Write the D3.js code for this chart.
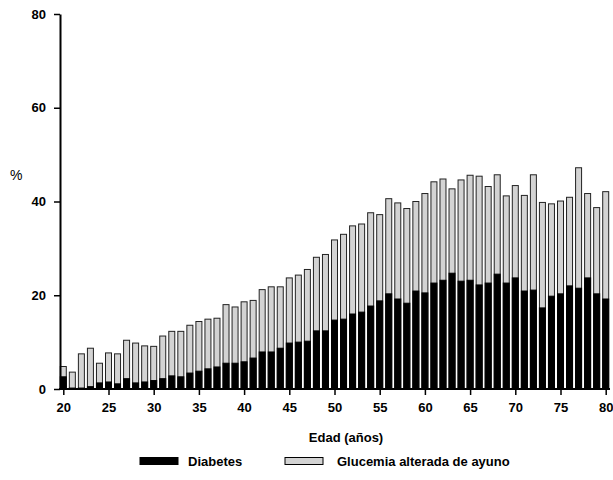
<!DOCTYPE html>
<html>
<head>
<meta charset="utf-8">
<script src="https://cdn.jsdelivr.net/npm/d3@7"></script>
<style>
  body { margin: 0; background: #fff; }
  svg text { font-family: "Liberation Sans", Arial, sans-serif; font-weight: bold; fill: #000; }
</style>
</head>
<body>
<svg id="chart" width="613" height="480"></svg>
<script>
// -------- Data --------
const ages = d3.range(20, 81);

// % with diabetes (black part)
const diabetes = [
  2.6, 0.2, 0.2, 0.5, 1.3, 1.5, 1.1, 2.2, 1.3, 1.5,
  1.8, 2.2, 2.8, 2.6, 3.4, 3.8, 4.3, 4.7, 5.5, 5.5,
  5.8, 6.6, 7.9, 7.9, 8.7, 9.8, 10.0, 10.2, 12.4, 12.4,
  14.7, 14.9, 16.0, 16.4, 17.7, 18.8, 20.3, 19.2, 18.3, 20.9,
  20.5, 22.6, 23.2, 24.7, 23.0, 23.2, 22.2, 22.6, 24.5, 22.6,
  23.7, 20.9, 21.1, 17.3, 19.8, 20.3, 22.0, 21.5, 23.7, 20.3,
  19.2
];

// total height (diabetes + glucemia alterada de ayuno)
const total = [
  4.8, 3.6, 7.5, 8.7, 5.5, 7.7, 7.5, 10.4, 9.8, 9.2,
  9.1, 11.3, 12.3, 12.3, 13.6, 14.4, 14.9, 15.1, 18.0, 17.5,
  18.6, 18.9, 21.2, 21.8, 21.8, 23.7, 24.3, 25.5, 28.1, 28.7,
  31.8, 33.0, 34.8, 35.2, 37.6, 37.2, 40.6, 39.7, 38.5, 40.0,
  41.7, 44.2, 44.8, 42.7, 44.6, 45.6, 45.4, 43.2, 45.7, 41.2,
  43.4, 41.3, 45.7, 39.8, 39.5, 40.1, 40.9, 47.2, 41.7, 38.7,
  42.1
];

const yTicks = [0, 20, 40, 60, 80];
const xTicks = [20, 25, 30, 35, 40, 45, 50, 55, 60, 65, 70, 75, 80];

const seriesNames = ["Diabetes", "Glucemia alterada de ayuno"];
const seriesColors = ["#000000", "#d3d3d3"];

// -------- Scales --------
const svg = d3.select("#chart");

const x = d3.scaleLinear().domain([20, 80]).range([63.3, 605.7]);
const y = d3.scaleLinear().domain([0, 80]).range([389, 14]);
const barW = 6;

// -------- Bars --------
const rows = ages.map((a, i) => ({ age: a, diab: diabetes[i], tot: total[i] }));

// gray (total) bar underneath, black diabetes part on top of it
svg.append("g")
  .selectAll("rect")
  .data(rows)
  .join("rect")
  .attr("x", d => x(d.age) - barW / 2)
  .attr("y", d => y(d.tot))
  .attr("width", barW)
  .attr("height", d => y(0) - y(d.tot))
  .attr("fill", seriesColors[1])
  .attr("stroke", "#222")
  .attr("stroke-width", 1);

svg.append("g")
  .selectAll("rect")
  .data(rows)
  .join("rect")
  .attr("x", d => x(d.age) - barW / 2)
  .attr("y", d => y(d.diab))
  .attr("width", barW)
  .attr("height", d => y(0) - y(d.diab))
  .attr("fill", seriesColors[0])
  .attr("stroke", "#000")
  .attr("stroke-width", 1);

// -------- Axes --------
const yAxis = svg.append("g")
  .attr("transform", "translate(60,0)")
  .call(d3.axisLeft(y).tickValues(yTicks).tickSize(6).tickSizeOuter(0).tickPadding(8));

const xAxis = svg.append("g")
  .attr("transform", `translate(0,${y(0)})`)
  .call(d3.axisBottom(x).tickValues(xTicks).tickSize(6).tickSizeOuter(0).tickPadding(8));

[yAxis, xAxis].forEach(g => {
  g.select(".domain").attr("stroke", "#000").attr("stroke-width", 2);
  g.selectAll(".tick line").attr("stroke", "#000").attr("stroke-width", 1.5);
  g.selectAll("text").style("font-size", "13px").style("font-family", "Liberation Sans, Arial, sans-serif").style("font-weight", "bold");
});

// extend x axis line to the y axis and past 80
xAxis.select(".domain").attr("d", `M${60 - 1},0H610`);

// -------- Labels --------
svg.append("text")
  .attr("x", 10).attr("y", 180)
  .style("font-size", "14px").style("font-weight", "normal")
  .text("%");

svg.append("text")
  .attr("x", 346).attr("y", 442)
  .attr("text-anchor", "middle")
  .style("font-size", "13px")
  .text("Edad (años)");

// -------- Legend --------
const legend = [
  { name: seriesNames[0], color: seriesColors[0], rx: 140, tx: 188 },
  { name: seriesNames[1], color: seriesColors[1], rx: 285, tx: 337 }
];

const lg = svg.append("g");
lg.selectAll("rect")
  .data(legend)
  .join("rect")
  .attr("x", d => d.rx)
  .attr("y", 457.5)
  .attr("width", 38)
  .attr("height", 7)
  .attr("fill", d => d.color)
  .attr("stroke", "#000")
  .attr("stroke-width", 1);

lg.selectAll("text")
  .data(legend)
  .join("text")
  .attr("x", d => d.tx)
  .attr("y", 466)
  .style("font-size", "13px")
  .text(d => d.name);
</script>
</body>
</html>
